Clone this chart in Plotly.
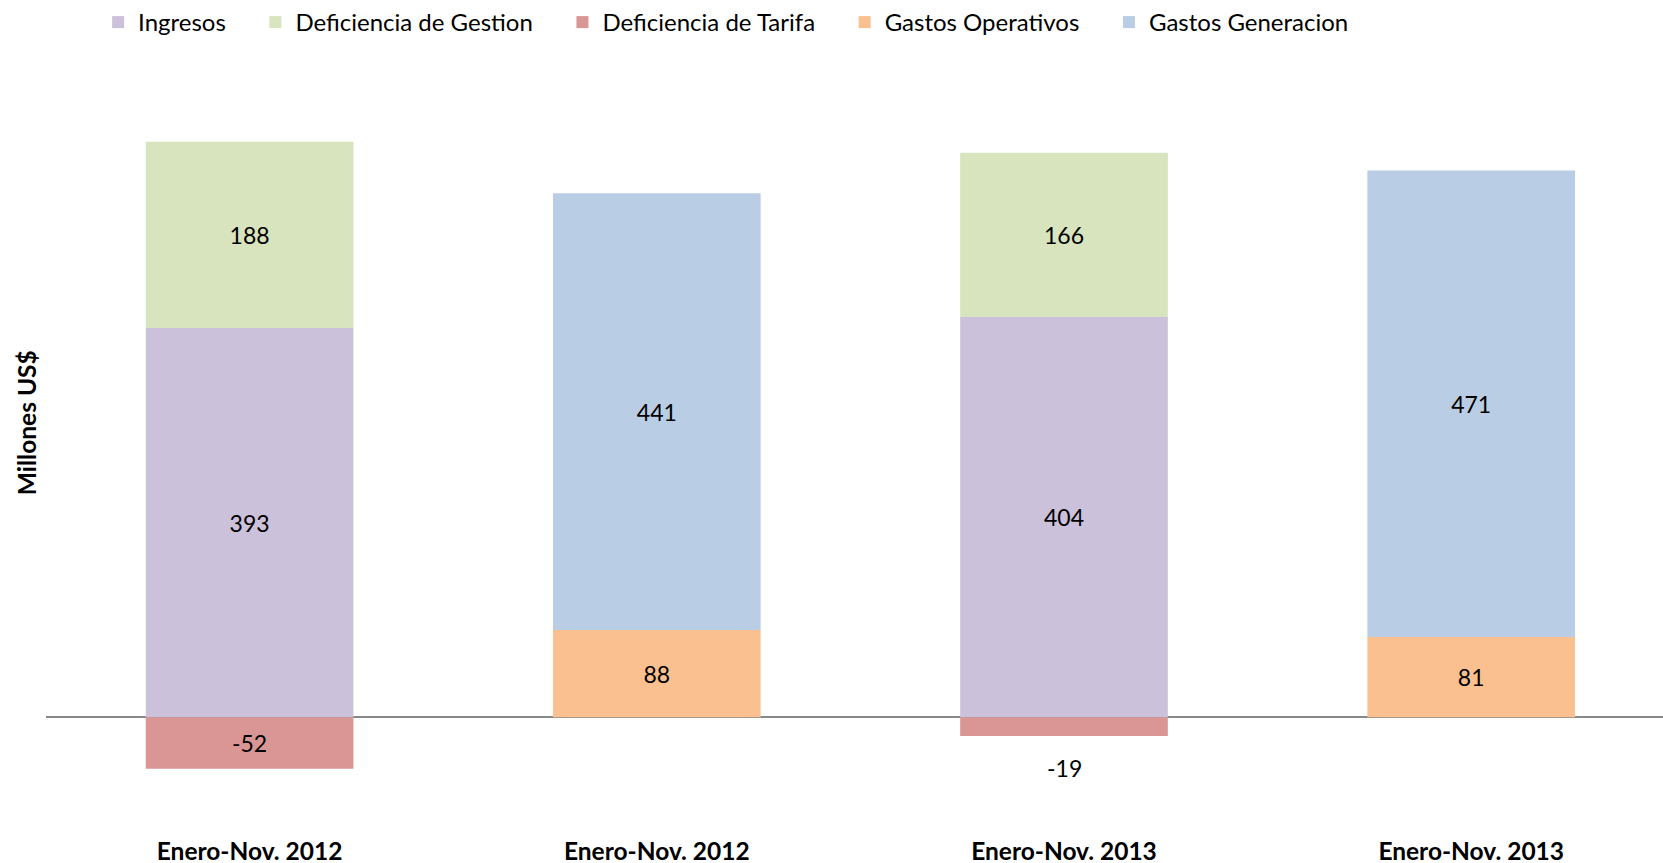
import plotly.graph_objects as go

categories = ["Enero-Nov. 2012", "Enero-Nov. 2012", "Enero-Nov. 2013", "Enero-Nov. 2013"]
x_pos = [0, 1, 2, 3]

ingresos = [393, None, 404, None]
def_gestion = [188, None, 166, None]
def_tarifa = [-52, None, -19, None]
gastos_oper = [None, 88, None, 81]
gastos_gen = [None, 441, None, 471]

series = [
    ("Ingresos", ingresos, "#CCC1DA"),
    ("Deficiencia de Gestion", def_gestion, "#D7E4BD"),
    ("Deficiencia de Tarifa", def_tarifa, "#DA9694"),
    ("Gastos Operativos", gastos_oper, "#FAC090"),
    ("Gastos Generacion", gastos_gen, "#B9CDE5"),
]

FONT = "Lato"
fig = go.Figure()
for name, vals, color in series:
    texts = []
    for i, v in enumerate(vals):
        if v is None:
            texts.append("")
        elif name == "Deficiencia de Tarifa" and i == 2:
            texts.append("")  # drawn below the bar
        else:
            texts.append(str(v))
    fig.add_trace(go.Bar(
        name=name + "\u00a0" * 4,
        x=x_pos, y=vals, marker=dict(color=color, line=dict(width=0)),
        width=0.51,
        text=texts, textposition="inside", insidetextanchor="middle",
        textfont=dict(family=FONT, size=23, color="#000000"),
        constraintext="none",
        hoverinfo="skip",
    ))

# label of small negative bar placed beneath it
fig.add_annotation(x=x_pos[2], y=def_tarifa[2], text=str(def_tarifa[2]),
                   showarrow=False, yanchor="top", yshift=-16,
                   font=dict(family=FONT, size=23, color="#000000"))

fig.add_annotation(xref="paper", yref="paper", x=-0.0124, y=0.532,
                   text="<b>Millones US$</b>", textangle=-90, showarrow=False,
                   xanchor="center", yanchor="middle",
                   font=dict(family=FONT, size=24.5, color="#000000"))

fig.update_layout(
    width=1663, height=863,
    barmode="relative",
    plot_bgcolor="white", paper_bgcolor="white",
    margin=dict(l=46, r=0, t=60, b=29, autoexpand=False),
    showlegend=True,
    legend=dict(orientation="h", xref="container", yref="container",
                x=0.059, y=1.0, xanchor="left", yanchor="top",
                font=dict(family=FONT, size=24, color="#000000"),
                itemwidth=30, traceorder="normal"),
    xaxis=dict(range=[-0.5, 3.471], tickmode="array", tickvals=x_pos,
               ticktext=["<b>%s</b>" % c for c in categories],
               tickfont=dict(family=FONT, size=24.5, color="#000000"),
               showgrid=False, showline=False, zeroline=False, ticks="",
               automargin=False),
    yaxis=dict(range=[-118, 663.6], showticklabels=False, showgrid=False,
               zeroline=True, zerolinecolor="#898989", zerolinewidth=1.5,
               showline=False, ticks="", layer="above traces",
               automargin=False),
)

fig.write_html("out.html", config={"displayModeBar": False},
               post_script="document.body.style.margin='0';document.body.style.overflow='hidden';")
